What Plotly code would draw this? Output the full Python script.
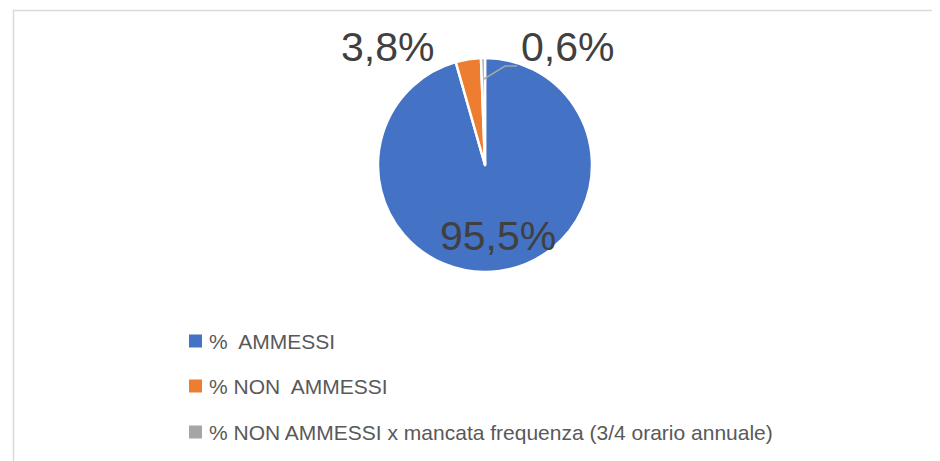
import plotly.graph_objects as go

labels = ["%\u00a0 AMMESSI", "% NON\u00a0 AMMESSI", "% NON AMMESSI x mancata frequenza (3/4 orario annuale)"]
values = [95.5, 3.8, 0.6]
colors = ["#4472C4", "#ED7D31", "#A5A5A5"]

W, H = 940, 461
OX, OY = 8, 8  # page body margin compensation
def px(x): return (x - OX) / W
def py(y): return 1 - (y - OY) / H

fig = go.Figure()
fig.add_trace(go.Pie(
    labels=labels, values=values, sort=False, direction="clockwise", rotation=0,
    marker=dict(colors=colors, line=dict(color="white", width=2.5)),
    textinfo="none", hoverinfo="label+percent", showlegend=False,
    domain=dict(x=[px(378), px(592)], y=[py(272), py(58)]),
))

def fmt(v):
    return f"{v:.1f}".replace(".", ",") + "%"

label_pos = [(498, 236), (387, 47), (567, 47)]
annotations = []
for v, (x, y) in zip(values, label_pos):
    annotations.append(dict(x=px(x), y=py(y), xref="paper", yref="paper", text=fmt(v),
                            showarrow=False, xanchor="center", yanchor="middle",
                            font=dict(family="Liberation Sans", size=41, color="#404040")))

legend_y = [341, 386, 432]
shapes = [
    dict(type="rect", xref="paper", yref="paper", x0=px(13.5), x1=px(990), y0=py(520), y1=py(10.5),
         line=dict(color="#D9D9D9", width=1.5), fillcolor="rgba(0,0,0,0)"),
    dict(type="path", xref="paper", yref="paper",
         path=f"M {px(484)} {py(79)} L {px(505)} {py(66)} L {px(517)} {py(66)}",
         line=dict(color="#A5A5A5", width=1.5)),
]
for lab, col, y in zip(labels, colors, legend_y):
    shapes.append(dict(type="rect", xref="paper", yref="paper", x0=px(189), x1=px(202),
                       y0=py(y + 6.5), y1=py(y - 6.5), fillcolor=col, line=dict(width=0)))
    annotations.append(dict(x=px(207), y=py(y), xref="paper", yref="paper", text=lab,
                            showarrow=False, xanchor="left", yanchor="middle",
                            font=dict(family="Liberation Sans", size=21, color="#595959")))

fig.update_layout(
    width=W, height=H, margin=dict(l=0, r=0, t=0, b=0),
    paper_bgcolor="white", plot_bgcolor="white",
    annotations=annotations, shapes=shapes,
)
fig.write_html("out.html")
